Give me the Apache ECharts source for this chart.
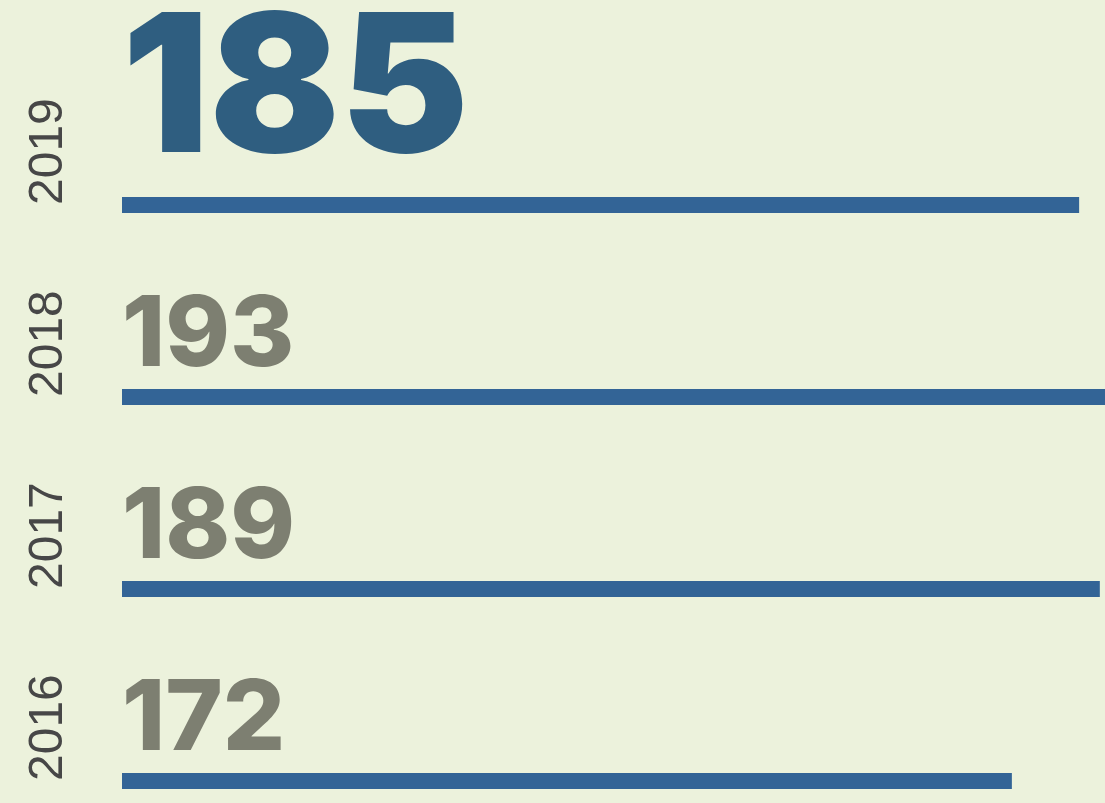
<!DOCTYPE html>
<html>
<head>
<meta charset="utf-8">
<script src="https://cdn.jsdelivr.net/npm/echarts@6/dist/echarts.min.js"></script>
<style>
    html, body { margin: 0; padding: 0; background: #ecf2dc; }
    #chart { width: 1105px; height: 803px; }
</style>
</head>
<body>
<div id="chart"></div>
<script>
    // years bottom to top
    const years = ['2016', '2017', '2018', '2019'];
    const values = [172, 189, 193, 185];
    const highlightYear = '2019';

    const chart = echarts.init(document.getElementById('chart'));

    const barData = values.map((v, i) => {
        const hot = years[i] === highlightYear;
        return {
            value: v,
            label: hot
                ? { fontSize: 193, fontWeight: 900, color: '#2f5e80', offset: [0, -103] }
                : { fontSize: 98, fontWeight: 800, color: '#7d7f71', offset: [0, -52] }
        };
    });

    const option = {
        animation: false,
        backgroundColor: '#ecf2dc',
        grid: {
            left: 122,
            top: 205,
            bottom: 22,
            right: 0
        },
        xAxis: {
            type: 'value',
            min: 0,
            max: 190,
            show: false
        },
        yAxis: {
            type: 'category',
            data: years,
            boundaryGap: false,
            axisLine: { show: false },
            axisTick: { show: false },
            splitLine: { show: false },
            axisLabel: {
                rotate: 90,
                align: 'left',
                verticalAlign: 'bottom',
                margin: 49,
                fontFamily: '"Liberation Sans", Arial, sans-serif',
                fontSize: 48,
                color: '#474747'
            }
        },
        series: [{
            type: 'bar',
            data: barData,
            barWidth: 16,
            clip: false,
            itemStyle: { color: '#336496' },
            label: {
                show: true,
                position: [0, 0],
                align: 'left',
                verticalAlign: 'middle',
                fontFamily: 'Inter, sans-serif',
                formatter: p => String(p.value)
            }
        }]
    };

    chart.setOption(option);
</script>
</body>
</html>
